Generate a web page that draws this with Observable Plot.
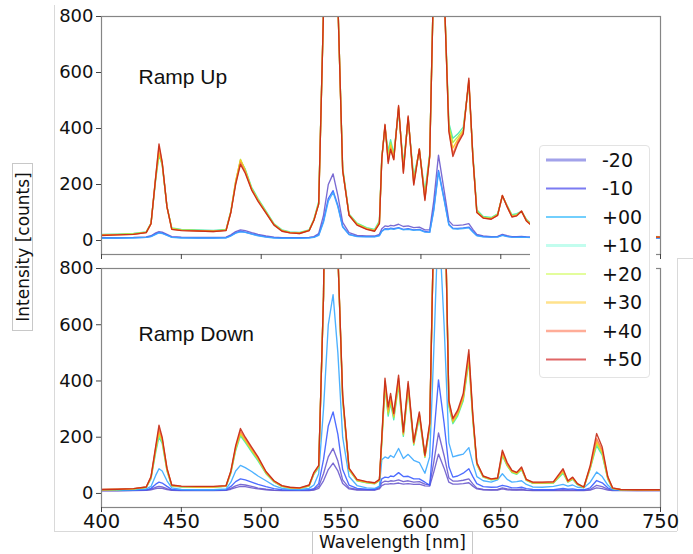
<!DOCTYPE html>
<html><head><meta charset="utf-8">
<script src="https://cdn.jsdelivr.net/npm/d3@7"></script>
<script src="https://cdn.jsdelivr.net/npm/@observablehq/plot@0.6"></script>
<style>
body{margin:0;background:#fff;}
#chart{position:relative;width:693px;height:554px;overflow:hidden;font-family:"DejaVu Sans",sans-serif;background:#fff;}
.panel{position:absolute;left:0;}
.gl{position:absolute;background:#d9d9d9;}
#ylabel{position:absolute;left:12px;top:163px;width:21px;height:168px;border:1px solid #c8c8c8;box-sizing:border-box;}
#ylabel span{position:absolute;left:50%;top:50%;transform:translate(-50%,-50%) rotate(-90deg);white-space:nowrap;font-size:17px;color:#111;}
#xlabel{position:absolute;left:312px;top:531px;width:161px;height:30px;border:1px solid #c8c8c8;box-sizing:border-box;font-size:17px;color:#111;text-align:center;line-height:19px;padding-top:1px;}
#legendmask{position:absolute;left:530px;top:137px;width:126px;height:250px;background:#fff;}
#legend{position:absolute;left:539px;top:145px;width:111px;height:233px;border:1px solid #e3e3e3;border-radius:4px;box-sizing:border-box;background:#fff;}
</style></head><body><div id="chart"></div>
<script>
const wavelengths = [400,410,420,428,431,434,436,438,441,444,
 450,460,470,478,481,484,487,490,494,498,
 503,508,513,518,524,530,533,536,539,542,
 545,548,551,555,560,566,571,574,575.5,577.5,
 579.5,581,583,586,589,592,595.5,599,602.5,605.5,
 608,611,614.5,617.5,620,623,626.5,630,632.5,635,
 639,644,648,651,654,657,660,663,666,670,
 676,683,689,692,695,698,702,706,710,713.5,
 717,720,725,735,750];

const seriesLabels = ["-20","-10","+00","+10","+20","+30","+40","+50"];
const lineColors = ["#6a5acd","#3a5cff","#3aa8ff","#3ee8b0","#a8ec3c","#ffc41c","#ff7448","#c42a14"];
const legendColors = ["#a2a2ea","#7b7bf2","#72cffd","#c2fdee","#e3fd9c","#ffe28c","#ffad98","#e06666"];
const legendWidths = [3,2,2,3,2,2.5,2.5,2];
const yTicks = [0,200,400,600,800];
const xTicks = [400,450,500,550,600,650,700,750];
const panelTitles = ["Ramp Up","Ramp Down"];
const axisTitleY = "Intensity [counts]";
const axisTitleX = "Wavelength [nm]";

// ---- Ramp Up ----
const up_m20 = [10,10,11,13,17,27,32,30,22,14,
 12,11,11,12,20,32,38,35,28,22,
 16,12,10,10,10,11,14,25,90,200,
 238,160,65,28,18,16,16,22,42,52,
 50,54,52,58,50,52,46,48,38,38,
 140,305,180,70,55,54,56,60,40,22,
 16,14,15,22,17,14,14,15,13,12,
 12,12,13,12,12,11,11,12,16,14,
 12,11,11,11,10];
const up_m10 = [9,9,10,11,15,24,28,26,19,12,
 10,9,9,10,17,27,33,30,24,18,
 13,10,9,9,9,10,12,20,70,150,
 178,125,50,22,15,14,14,18,34,42,
 41,44,42,46,40,42,38,40,32,30,
 110,250,150,58,44,43,45,48,32,18,
 14,12,13,19,15,12,12,13,12,11,
 11,11,12,11,11,10,10,11,14,13,
 11,10,10,10,9];
const up_p00 = [8,9,9,11,14,22,27,25,18,11,
 9,9,9,9,16,26,31,29,23,17,
 12,9,8,8,8,9,11,18,65,140,
 172,120,48,21,14,13,13,17,32,40,
 39,42,40,44,38,40,36,38,30,29,
 105,245,145,55,42,41,43,45,30,17,
 13,12,12,18,14,12,11,12,11,10,
 10,10,11,10,10,10,9,10,13,12,
 10,10,9,9,9];
const up_p10 = [22,23,25,31,62,220,305,270,120,45,
 40,38,36,40,105,210,285,255,190,150,
 105,60,38,31,29,38,76,140,820,2000,
 2500,850,260,95,62,46,40,70,300,400,
 320,360,310,460,275,430,230,320,175,310,
 950,2800,900,420,365,380,405,560,310,110,
 86,82,95,158,125,92,96,104,76,55,
 44,44,74,46,54,34,29,62,150,125,
 44,23,18,16,14];
const up_p20 = [21,22,24,30,61,225,310,272,120,43,
 38,36,34,38,104,208,290,252,186,146,
 102,58,36,29,27,37,74,135,820,2000,
 2500,850,255,92,60,44,37,66,295,405,
 305,350,300,470,262,435,215,325,160,305,
 950,2800,900,410,350,370,395,565,305,105,
 83,80,93,160,123,89,92,104,74,52,
 42,42,72,44,52,32,27,61,152,124,
 42,21,16,15,13];
const up_p30 = [20,21,23,29,60,228,315,275,120,42,
 37,35,33,37,103,212,288,250,184,144,
 100,57,35,28,26,36,73,132,820,2000,
 2500,850,252,91,58,42,35,63,292,410,
 290,340,295,475,255,438,208,326,152,302,
 950,2800,900,400,330,360,390,570,302,102,
 81,78,91,160,122,87,89,104,72,51,
 41,41,71,43,51,31,26,60,152,122,
 41,20,15,14,12];
const up_p40 = [19,20,22,28,60,232,335,278,120,40,
 36,34,32,36,101,204,278,245,182,142,
 99,56,34,27,25,35,72,131,820,2000,
 2500,850,250,90,56,41,34,61,290,412,
 282,330,290,478,245,440,202,327,148,300,
 950,2800,900,392,310,352,385,572,300,100,
 80,77,90,161,121,85,89,105,71,50,
 40,40,70,42,50,30,25,60,150,120,
 40,20,15,14,12];
const up_p50 = [18,20,22,28,60,230,345,280,120,40,
 35,34,32,35,100,200,272,240,180,140,
 98,55,33,27,25,35,72,130,820,2000,
 2500,850,250,90,55,40,33,60,290,415,
 275,325,288,482,240,445,198,327,143,300,
 950,2800,900,390,300,345,381,580,300,100,
 80,76,90,161,120,84,88,105,70,50,
 40,40,70,40,50,30,25,60,150,120,
 40,20,15,14,12];

// ---- Ramp Down ----
const dn_m20a = [9,9,10,11,13,17,19,18,14,11,
 10,10,10,11,15,21,25,24,20,16,
 13,11,10,10,10,10,12,18,45,85,
 108,80,35,16,12,12,12,16,28,33,
 33,35,34,37,33,35,32,33,27,26,
 75,140,90,40,33,33,35,38,26,16,
 13,12,12,16,13,12,12,13,11,10,
 10,10,11,10,10,10,10,12,20,17,
 12,10,10,10,10];
const dn_m20b = [10,10,11,12,15,22,25,23,17,12,
 11,11,11,12,18,27,32,30,25,19,
 15,12,11,11,11,11,14,25,70,130,
 160,115,48,20,14,13,13,20,38,44,
 42,45,44,48,42,45,40,42,33,31,
 110,215,135,55,44,44,47,52,34,19,
 14,13,14,20,16,14,13,15,12,11,
 11,11,13,12,12,11,11,14,29,24,
 15,11,11,10,10];
const dn_m10 = [11,11,12,13,18,33,40,37,25,14,
 12,12,12,13,25,42,52,48,40,32,
 24,17,13,12,12,13,17,35,120,240,
 290,210,85,30,18,15,14,25,52,58,
 56,62,60,74,60,61,52,52,40,29,
 200,404,250,95,58,62,72,88,60,35,
 24,22,23,29,25,20,20,22,17,14,
 13,13,18,15,16,13,13,20,46,38,
 20,13,12,12,11];
const dn_p00 = [12,12,13,16,25,65,88,80,45,20,
 14,13,13,16,40,80,100,92,78,62,
 45,28,18,15,14,18,30,70,300,600,
 707,500,200,60,28,20,18,25,120,130,
 125,135,128,160,124,139,118,110,72,130,
 500,1000,600,180,130,135,140,163,106,60,
 45,40,48,70,50,40,42,45,32,23,
 22,25,32,26,30,22,20,40,76,60,
 30,14,13,12,12];
const dn_p10 = [12,13,15,21,52,148,200,178,80,26,
 23,22,22,25,72,152,205,182,148,116,
 70,41,24,19,17,26,68,92,700,2000,
 2600,850,330,83,45,38,34,45,180,375,
 275,320,262,385,203,368,172,270,128,232,
 950,2800,1200,310,248,275,330,470,260,102,
 58,48,51,134,98,74,68,84,46,36,
 36,37,72,40,50,31,21,88,170,136,
 51,17,13,12,12];
const dn_p20 = [13,14,16,22,55,155,212,185,82,27,
 24,23,23,26,75,158,210,186,152,120,
 72,42,25,20,18,27,70,94,700,2000,
 2600,850,335,85,46,39,35,46,185,382,
 282,328,270,392,208,375,175,276,130,236,
 950,2800,1200,315,253,280,335,478,265,104,
 59,49,52,138,100,76,70,86,47,37,
 37,38,76,41,52,32,21,90,178,142,
 53,18,13,13,12];
const dn_p30 = [13,14,16,22,56,160,220,190,85,28,
 24,23,23,26,76,160,215,190,156,124,
 74,43,26,20,18,28,72,96,700,2000,
 2600,850,340,86,47,40,36,47,190,390,
 290,335,275,400,212,382,178,280,132,240,
 950,2800,1200,320,258,285,340,485,270,106,
 60,50,53,142,102,78,72,88,48,38,
 38,39,80,42,54,33,22,92,185,148,
 55,18,14,13,12];
const dn_p40 = [14,15,17,23,58,165,230,195,88,29,
 25,24,24,27,78,165,222,195,160,127,
 76,44,27,21,19,29,73,98,700,2000,
 2600,850,345,88,48,41,37,48,195,400,
 300,345,280,410,215,390,180,285,134,245,
 950,2800,1200,325,262,290,348,495,275,108,
 61,51,54,148,105,80,74,91,49,39,
 39,40,84,43,56,34,22,95,195,155,
 57,19,14,13,13];
const dn_p50 = [14,15,17,23,60,170,243,200,90,30,
 26,25,25,28,80,170,231,200,165,130,
 78,45,28,22,20,30,75,100,700,2000,
 2600,850,350,90,50,42,38,50,200,410,
 308,356,285,421,219,398,183,290,136,250,
 950,2800,1200,330,267,296,356,511,280,110,
 62,52,55,154,110,82,75,94,50,40,
 40,42,88,45,58,35,23,100,213,165,
 60,20,14,13,13];

const rampUpTraces = [
  ["-20", up_m20], ["-10", up_m10], ["+00", up_p00], ["+10", up_p10],
  ["+20", up_p20], ["+30", up_p30], ["+40", up_p40], ["+50", up_p50]
];
const rampDownTraces = [
  ["-20", dn_m20a], ["-20", dn_m20b], ["-10", dn_m10], ["+00", dn_p00],
  ["+10", dn_p10], ["+20", dn_p20], ["+30", dn_p30], ["+40", dn_p40], ["+50", dn_p50]
];

function toRows(traces) {
  const rows = [];
  traces.forEach(([label, values], t) => {
    values.forEach((v, i) => rows.push({w: wavelengths[i], v, label, trace: t}));
  });
  return rows;
}

function makePanel(traces, title, opts) {
  const rows = toRows(traces);
  return Plot.plot({
    width: 693,
    height: opts.height,
    marginLeft: 101,
    marginRight: 33,
    marginTop: opts.marginTop,
    marginBottom: opts.marginBottom,
    x: {domain: [400, 750]},
    y: {domain: [-50, 800]},
    color: {domain: seriesLabels, range: lineColors},
    style: {fontFamily: "DejaVu Sans, sans-serif", color: "#111", background: "transparent", overflow: "visible"},
    marks: [
      Plot.line(rows, {x: "w", y: "v", z: "trace", stroke: "label", strokeWidth: 1.35, strokeOpacity: 0.9, strokeLinejoin: "round", clip: true}),
      Plot.frame({stroke: "#858585", strokeWidth: 1.2}),
      Plot.axisY({ticks: yTicks, tickSize: 5, tickPadding: 3, fontSize: 18, label: null, stroke: "#444"}),
      opts.xLabels
        ? Plot.axisX({ticks: xTicks, tickSize: 5, tickPadding: 2, fontSize: 19.5, label: null, stroke: "#444"})
        : Plot.axisX({ticks: xTicks, tickSize: 5, tickFormat: () => "", label: null, stroke: "#444"}),
      Plot.text([title], {x: () => 400, y: () => 800, text: d => d, frameAnchor: "top-left", textAnchor: "start", lineAnchor: "bottom",
        dx: 37, dy: opts.titleDy, fontSize: 21, fontFamily: "Liberation Sans, Arial, sans-serif", fill: "#111"})
    ]
  });
}

const chart = document.getElementById("chart");

function addLine(l, t, w, h) {
  const d = document.createElement("div");
  d.className = "gl";
  Object.assign(d.style, {left: l + "px", top: t + "px", width: w + "px", height: h + "px"});
  chart.appendChild(d);
}
addLine(54, 5, 1, 526);
addLine(54, 531, 623, 1);
addLine(677, 258, 1, 273);
addLine(677, 258, 16, 1);

const top1 = makePanel(rampUpTraces, panelTitles[0], {height: 262, marginTop: 16, marginBottom: 8, xLabels: false, titleDy: 67.5});
top1.classList.add("panel"); top1.style.top = "0px";
chart.appendChild(top1);

const bot = makePanel(rampDownTraces, panelTitles[1], {height: 274, marginTop: 8, marginBottom: 27, xLabels: true, titleDy: 72});
bot.classList.add("panel"); bot.style.top = "260px";
chart.appendChild(bot);

const yl = document.createElement("div");
yl.id = "ylabel";
yl.innerHTML = "<span></span>";
yl.firstChild.textContent = axisTitleY;
chart.appendChild(yl);

const xl = document.createElement("div");
xl.id = "xlabel";
xl.textContent = axisTitleX;
chart.appendChild(xl);

const mask = document.createElement("div");
mask.id = "legendmask";
chart.appendChild(mask);

const leg = document.createElement("div");
leg.id = "legend";
chart.appendChild(leg);
const lsvg = d3.select(leg).append("svg").attr("width", 111).attr("height", 233)
  .style("position", "absolute").style("left", "-1px").style("top", "-1px");
seriesLabels.forEach((lab, i) => {
  const cy = 15 + i * 28.5;
  lsvg.append("line").attr("x1", 7).attr("x2", 47).attr("y1", cy).attr("y2", cy)
    .attr("stroke", legendColors[i]).attr("stroke-width", legendWidths[i]);
  lsvg.append("text").attr("x", 63).attr("y", cy).attr("dy", "0.35em")
    .attr("font-family", "DejaVu Sans, sans-serif").attr("font-size", 19).attr("fill", "#111")
    .text(lab);
});
</script>
</body></html>
